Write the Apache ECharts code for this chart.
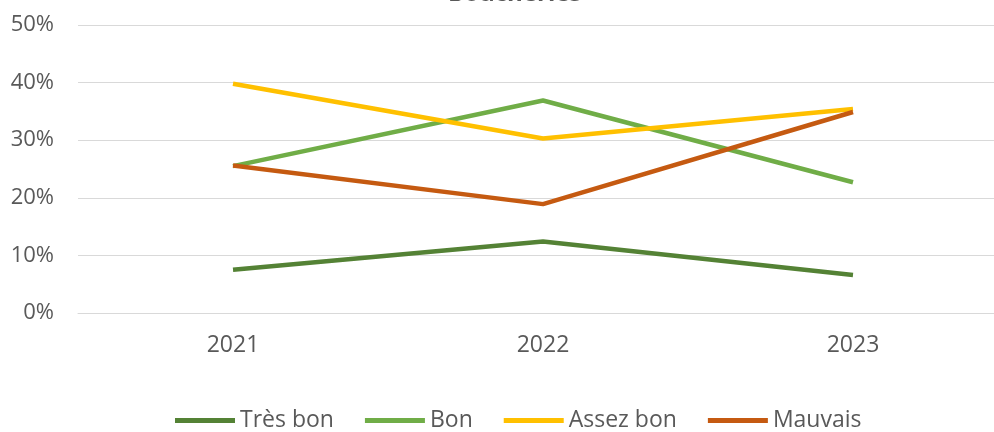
<!DOCTYPE html>
<html><head><meta charset="utf-8">
<script src="https://cdn.jsdelivr.net/npm/echarts@6/dist/echarts.min.js"></script>
<style>html,body{margin:0;padding:0;background:#fff;overflow:hidden;width:994px;height:432px}#c{width:1012px;height:432px}</style>
</head><body><div id="c"></div>
<script>
var categories = ['2021','2022','2023'];
var tresBon = [7.5, 12.4, 6.6];
var bon = [25.5, 36.9, 22.7];
var assezBon = [39.8, 30.3, 35.4];
var mauvais = [25.6, 18.9, 34.9];
var seriesNames = ['Très bon','Bon','Assez bon','Mauvais'];
var colors = ['#548235','#70AD47','#FFC000','#C55A11'];
var values = [tresBon, bon, assezBon, mauvais];

var chart = echarts.init(document.getElementById('c'));
chart.setOption({
  animation:false,
  title:{text:'Boucheries', left:443, top:-23, textStyle:{fontFamily:'Open Sans', fontSize:24, fontWeight:'bold', color:'#595959'}},
  grid:{left:78, width:930, top:25, height:288, containLabel:false},
  legend:{top:409, left:175, padding:0, itemWidth:60, itemHeight:5, itemGap:31,
    icon:'rect',
    textStyle:{fontFamily:'Open Sans', fontSize:23, color:'#595959'},
    data:seriesNames},
  xAxis:{type:'category', data:categories, boundaryGap:true,
    axisLine:{lineStyle:{color:'#D9D9D9', width:1}}, axisTick:{show:false},
    axisLabel:{fontFamily:'Open Sans', fontSize:23, color:'#595959', margin:21}},
  yAxis:{type:'value', min:0, max:50, interval:10,
    axisLine:{show:false}, axisTick:{show:false},
    splitLine:{lineStyle:{color:'#D9D9D9', width:1}},
    axisLabel:{fontFamily:'Open Sans', fontSize:22, color:'#595959', margin:24, formatter:'{value}%'}},
  series: values.map(function(v,i){return {name:seriesNames[i], type:'line', data:v, symbol:'none',
    lineStyle:{color:colors[i], width:4.5}, itemStyle:{color:colors[i]}};})
});
</script></body></html>
